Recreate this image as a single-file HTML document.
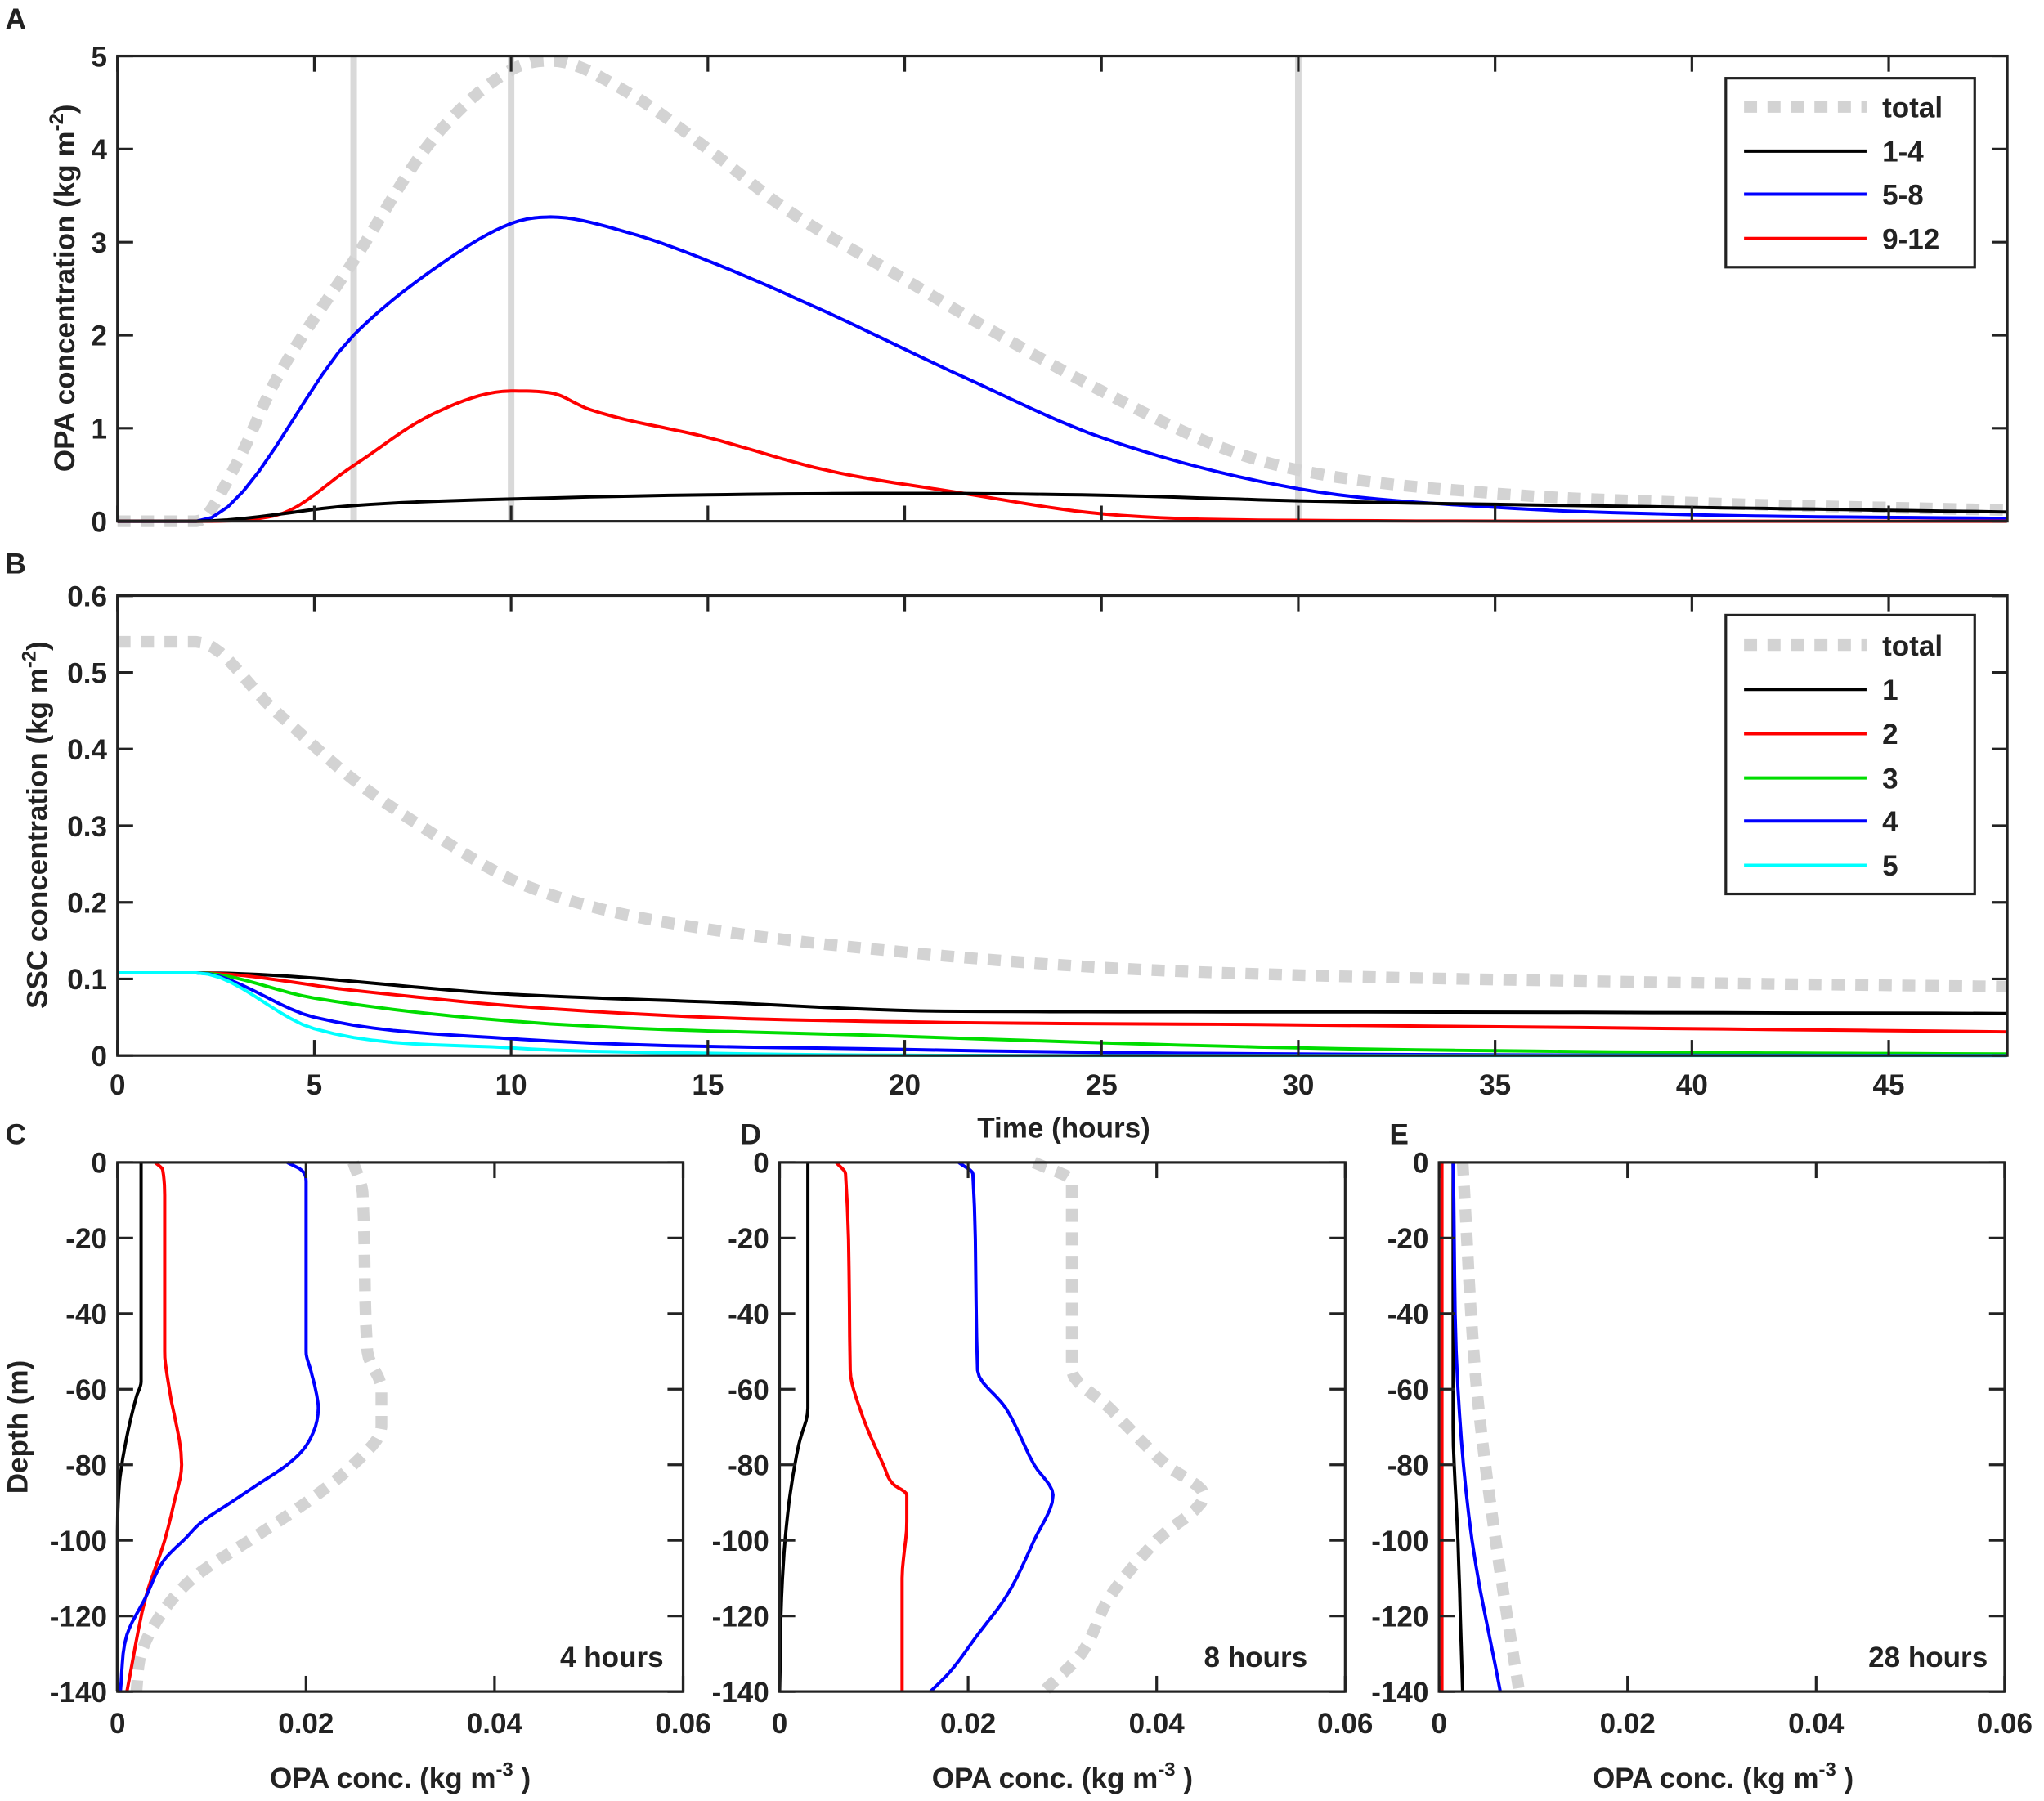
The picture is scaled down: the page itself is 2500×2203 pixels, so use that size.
<!DOCTYPE html>
<html><head><meta charset="utf-8"><style>body{margin:0;background:#fff}svg{display:block}text{font-family:"Liberation Sans",Arial,sans-serif;font-weight:bold;fill:#222}</style></head>
<body>
<svg id="s" width="2500" height="2203" viewBox="0 0 1568 1382" xmlns="http://www.w3.org/2000/svg">
<rect width="1568" height="1382" fill="#fff"/>
<g id="g"></g>
<text x="4" y="22" font-size="22">A</text>
<text x="4" y="440" font-size="22">B</text>
<text x="4" y="878" font-size="22">C</text>
<text x="568" y="878" font-size="22">D</text>
<text x="1066" y="878" font-size="22">E</text>
<text transform="translate(57,221) rotate(-90)" text-anchor="middle" font-size="22">OPA concentration (kg m<tspan dy="-9" font-size="15">-2</tspan><tspan dy="9">)</tspan></text>
<text transform="translate(36,633) rotate(-90)" text-anchor="middle" font-size="22">SSC concentration (kg m<tspan dy="-9" font-size="15">-2</tspan><tspan dy="9">)</tspan></text>
<text x="816" y="873" text-anchor="middle" font-size="22">Time (hours)</text>
<text transform="translate(21,1095) rotate(-90)" text-anchor="middle" font-size="22">Depth (m)</text>
<text x="307" y="1372" text-anchor="middle" font-size="22">OPA conc. (kg m<tspan dy="-9" font-size="15">-3</tspan><tspan dy="9"> )</tspan></text>
<text x="815" y="1372" text-anchor="middle" font-size="22">OPA conc. (kg m<tspan dy="-9" font-size="15">-3</tspan><tspan dy="9"> )</tspan></text>
<text x="1322" y="1372" text-anchor="middle" font-size="22">OPA conc. (kg m<tspan dy="-9" font-size="15">-3</tspan><tspan dy="9"> )</tspan></text>
<text x="509" y="1279" text-anchor="end" font-size="22">4 hours</text>
<text x="1003" y="1279" text-anchor="end" font-size="22">8 hours</text>
<text x="1525" y="1279" text-anchor="end" font-size="22">28 hours</text>
</svg>
<script>
const g=document.getElementById('g');let h='';
const GR='#d3d3d3';
function pl(pts,col,w,dash){h+=`<polyline fill="none" stroke="${col}" stroke-width="${w}" ${dash?`stroke-dasharray="${dash}"`:''} stroke-linejoin="round" points="${pts.map(p=>p[0].toFixed(1)+','+p[1].toFixed(1)).join(' ')}"/>`;}
// monotone cubic interpolation: d = [[x,y],...] with x monotonic (increasing or decreasing)
function mono(d,n){const N=d.length;if(N<3)return d;const xs=d.map(p=>p[0]),ys=d.map(p=>p[1]);
 const dl=[],m=[];for(let i=0;i<N-1;i++)dl.push((ys[i+1]-ys[i])/(xs[i+1]-xs[i]));
 m[0]=dl[0];m[N-1]=dl[N-2];for(let i=1;i<N-1;i++){m[i]=(dl[i-1]*dl[i]<=0)?0:(dl[i-1]+dl[i])/2;}
 for(let i=0;i<N-1;i++){if(dl[i]===0){m[i]=0;m[i+1]=0;}else{const a=m[i]/dl[i],b=m[i+1]/dl[i],s=a*a+b*b;if(s>9){const t=3/Math.sqrt(s);m[i]=t*a*dl[i];m[i+1]=t*b*dl[i];}}}
 const out=[];for(let i=0;i<N-1;i++){const hh=xs[i+1]-xs[i];for(let k=0;k<n;k++){const t=k/n,t2=t*t,t3=t2*t;
  const y=(2*t3-3*t2+1)*ys[i]+(t3-2*t2+t)*hh*m[i]+(-2*t3+3*t2)*ys[i+1]+(t3-t2)*hh*m[i+1];out.push([xs[i]+t*hh,y]);}}
 out.push(d[N-1]);return out;}
const AX=t=>90+t*30.2, AY=v=>400-v*71.4, BY=v=>810-v*588;
function box(x0,y0,x1,y1){h+=`<rect x="${x0}" y="${y0}" width="${x1-x0}" height="${y1-y0}" fill="none" stroke="#222" stroke-width="2"/>`;}
[6,10,30].forEach(t=>h+=`<line x1="${AX(t)}" y1="43" x2="${AX(t)}" y2="400" stroke="#d9d9d9" stroke-width="5"/>`);
function sA(d,col,w,dash,Y){pl(mono(d,10).map(p=>[AX(p[0]),Y(p[1])]),col,w,dash);}
sA([[0,0],[2,0],[3,0.6],[4,1.5],[6,2.8],[8,4.1],[10,4.85],[11,4.95],[13,4.6],[15,4.0],[17,3.35],[20,2.6],[22,2.1],[25,1.4],[28,0.8],[30,0.55],[35,0.3],[40,0.2],[48,0.12]],GR,9,'10,8',AY);
sA([[0,0],[2,0],[6,2.0],[8,2.7],[10,3.2],[11,3.27],[13,3.1],[15,2.8],[18,2.25],[21.5,1.55],[25,0.9],[30,0.35],[35,0.15],[40,0.07],[48,0.03]],'#0000ff',2.5,null,AY);
sA([[0,0],[2,0],[4,0.06],[6,0.6],[8,1.15],[10,1.4],[11,1.38],[12,1.2],[15,0.9],[18,0.55],[21.5,0.3],[25,0.08],[30,0.01],[40,0],[48,0]],'#ff0000',2.5,null,AY);
sA([[0,0],[2,0],[6,0.17],[10,0.24],[20,0.3],[25,0.28],[30,0.22],[40,0.15],[48,0.1]],'#000',2.5,null,AY);
box(90,43,1540,400);
sA([[0,0.54],[2,0.54],[4,0.45],[6,0.36],[8,0.29],[10,0.23],[12,0.195],[15,0.165],[20,0.135],[25,0.115],[30,0.105],[40,0.095],[48,0.09]],GR,9,'10,8',BY);
sA([[0,0.108],[2,0.108],[10,0.08],[15,0.07],[21,0.058],[30,0.057],[48,0.055]],'#000',2.5,null,BY);
sA([[0,0.108],[2,0.108],[6,0.085],[10,0.065],[15,0.05],[20,0.044],[30,0.04],[48,0.031]],'#ff0000',2.5,null,BY);
sA([[0,0.108],[2,0.108],[5,0.075],[10,0.045],[20,0.025],[30,0.01],[40,0.004],[48,0.002]],'#00dd00',2.5,null,BY);
sA([[0,0.108],[2,0.108],[5,0.05],[10,0.022],[20,0.008],[30,0.002],[48,0]],'#0000ff',2.5,null,BY);
sA([[0,0.108],[2,0.108],[5,0.035],[10,0.01],[15,0.003],[25,0],[48,0]],'#00ffff',2.5,null,BY);
box(90,457,1540,810);
for(let t=0;t<=45;t+=5){const x=AX(t);[[43,400],[457,810]].forEach(([a,b])=>{h+=`<line x1="${x}" y1="${a}" x2="${x}" y2="${a+12}" stroke="#222" stroke-width="2"/><line x1="${x}" y1="${b}" x2="${x}" y2="${b-12}" stroke="#222" stroke-width="2"/>`;});h+=`<text x="${x}" y="840" text-anchor="middle" font-size="22">${t}</text>`;}
for(let v=0;v<=5;v++){const y=AY(v);h+=`<line x1="90" y1="${y}" x2="102" y2="${y}" stroke="#222" stroke-width="2"/><line x1="1540" y1="${y}" x2="1528" y2="${y}" stroke="#222" stroke-width="2"/><text x="82" y="${y+8}" text-anchor="end" font-size="22">${v}</text>`;}
for(let i=0;i<=6;i++){const v=i/10,y=BY(v);h+=`<line x1="90" y1="${y}" x2="102" y2="${y}" stroke="#222" stroke-width="2"/><line x1="1540" y1="${y}" x2="1528" y2="${y}" stroke="#222" stroke-width="2"/><text x="82" y="${y+8}" text-anchor="end" font-size="22">${i==0?'0':v.toFixed(1)}</text>`;}
function leg(y0,y1,items){h+=`<rect x="1324" y="${y0}" width="191" height="${y1-y0}" fill="#fff" stroke="#222" stroke-width="2"/>`;items.forEach(([lab,col,y])=>{if(col==GR)h+=`<line x1="1338" y1="${y}" x2="1432" y2="${y}" stroke="${GR}" stroke-width="9" stroke-dasharray="10,8"/>`;else h+=`<line x1="1338" y1="${y}" x2="1432" y2="${y}" stroke="${col}" stroke-width="2.5"/>`;h+=`<text x="1444" y="${y+8}" font-size="22">${lab}</text>`;});}
leg(60,205,[['total',GR,82],['1-4','#000',116],['5-8','#0000ff',149],['9-12','#ff0000',183]]);
leg(472,686,[['total',GR,495],['1','#000',529],['2','#ff0000',563],['3','#00dd00',597],['4','#0000ff',630],['5','#00ffff',664]]);
function panel(x0,data){const X=c=>x0+c*7233,Y=d=>892-d*2.9;
 data.forEach(([col,w,dash,d])=>pl(mono(d.map(p=>[-p[0],p[1]]),6).map(p=>[X(p[1]),Y(-p[0])]),col,w,dash));
 box(x0,892,x0+434,1298);
 for(let i=0;i<=3;i++){const x=X(i*0.02);h+=`<line x1="${x}" y1="892" x2="${x}" y2="904" stroke="#222" stroke-width="2"/><line x1="${x}" y1="1298" x2="${x}" y2="1286" stroke="#222" stroke-width="2"/><text x="${x}" y="1330" text-anchor="middle" font-size="22">${i==0?'0':(i*0.02).toFixed(2)}</text>`;}
 for(let d=0;d>=-140;d-=20){const y=Y(d);h+=`<line x1="${x0}" y1="${y}" x2="${x0+12}" y2="${y}" stroke="#222" stroke-width="2"/><line x1="${x0+434}" y1="${y}" x2="${x0+422}" y2="${y}" stroke="#222" stroke-width="2"/><text x="${x0-8}" y="${y+8}" text-anchor="end" font-size="22">${d}</text>`;}
}
panel(90,[
 [GR,9,'10,8',[[0,0.025],[-8,0.026],[-50,0.0265],[-60,0.028],[-70,0.028],[-80,0.025],[-90,0.02],[-100,0.014],[-110,0.008],[-120,0.0045],[-130,0.0025],[-140,0.002]]],
 ['#000',2.5,null,[[0,0.0025],[-58,0.0025],[-62,0.002],[-75,0.0008],[-85,0.0002],[-100,0],[-140,0]]],
 ['#ff0000',2.5,null,[[0,0.004],[-2,0.0048],[-10,0.005],[-50,0.005],[-60,0.0055],[-80,0.0068],[-90,0.006],[-100,0.005],[-115,0.003],[-140,0.001]]],
 ['#0000ff',2.5,null,[[0,0.018],[-2,0.0195],[-5,0.02],[-50,0.02],[-55,0.0205],[-60,0.021],[-65,0.0213],[-75,0.02],[-80,0.018],[-85,0.015],[-90,0.012],[-95,0.009],[-100,0.007],[-105,0.005],[-115,0.003],[-125,0.001],[-140,0.0003]]]
]);
panel(598,[
 [GR,9,'10,8',[[0,0.027],[-5,0.031],[-55,0.031],[-65,0.035],[-80,0.041],[-88,0.045],[-100,0.040],[-115,0.035],[-130,0.032],[-140,0.028]]],
 ['#000',2.5,null,[[0,0.003],[-65,0.003],[-75,0.002],[-90,0.001],[-110,0.0003],[-140,0]]],
 ['#ff0000',2.5,null,[[0,0.006],[-3,0.007],[-55,0.0075],[-65,0.0085],[-80,0.011],[-85,0.012],[-88,0.0135],[-95,0.0135],[-110,0.013],[-140,0.013]]],
 ['#0000ff',2.5,null,[[0,0.019],[-3,0.0205],[-55,0.021],[-65,0.024],[-80,0.027],[-88,0.029],[-100,0.027],[-115,0.024],[-125,0.021],[-135,0.018],[-140,0.016]]]
]);
panel(1104,[
 [GR,9,'10,8',[[0,0.0025],[-60,0.004],[-100,0.006],[-140,0.0085]]],
 ['#ff0000',2.5,null,[[0,0.0003],[-140,0.0003]]],
 ['#000',2.5,null,[[0,0.0015],[-70,0.0015],[-100,0.002],[-140,0.0025]]],
 ['#0000ff',2.5,null,[[0,0.0015],[-60,0.002],[-100,0.0035],[-140,0.0065]]]
]);
g.innerHTML=h;
</script>
</body></html>
